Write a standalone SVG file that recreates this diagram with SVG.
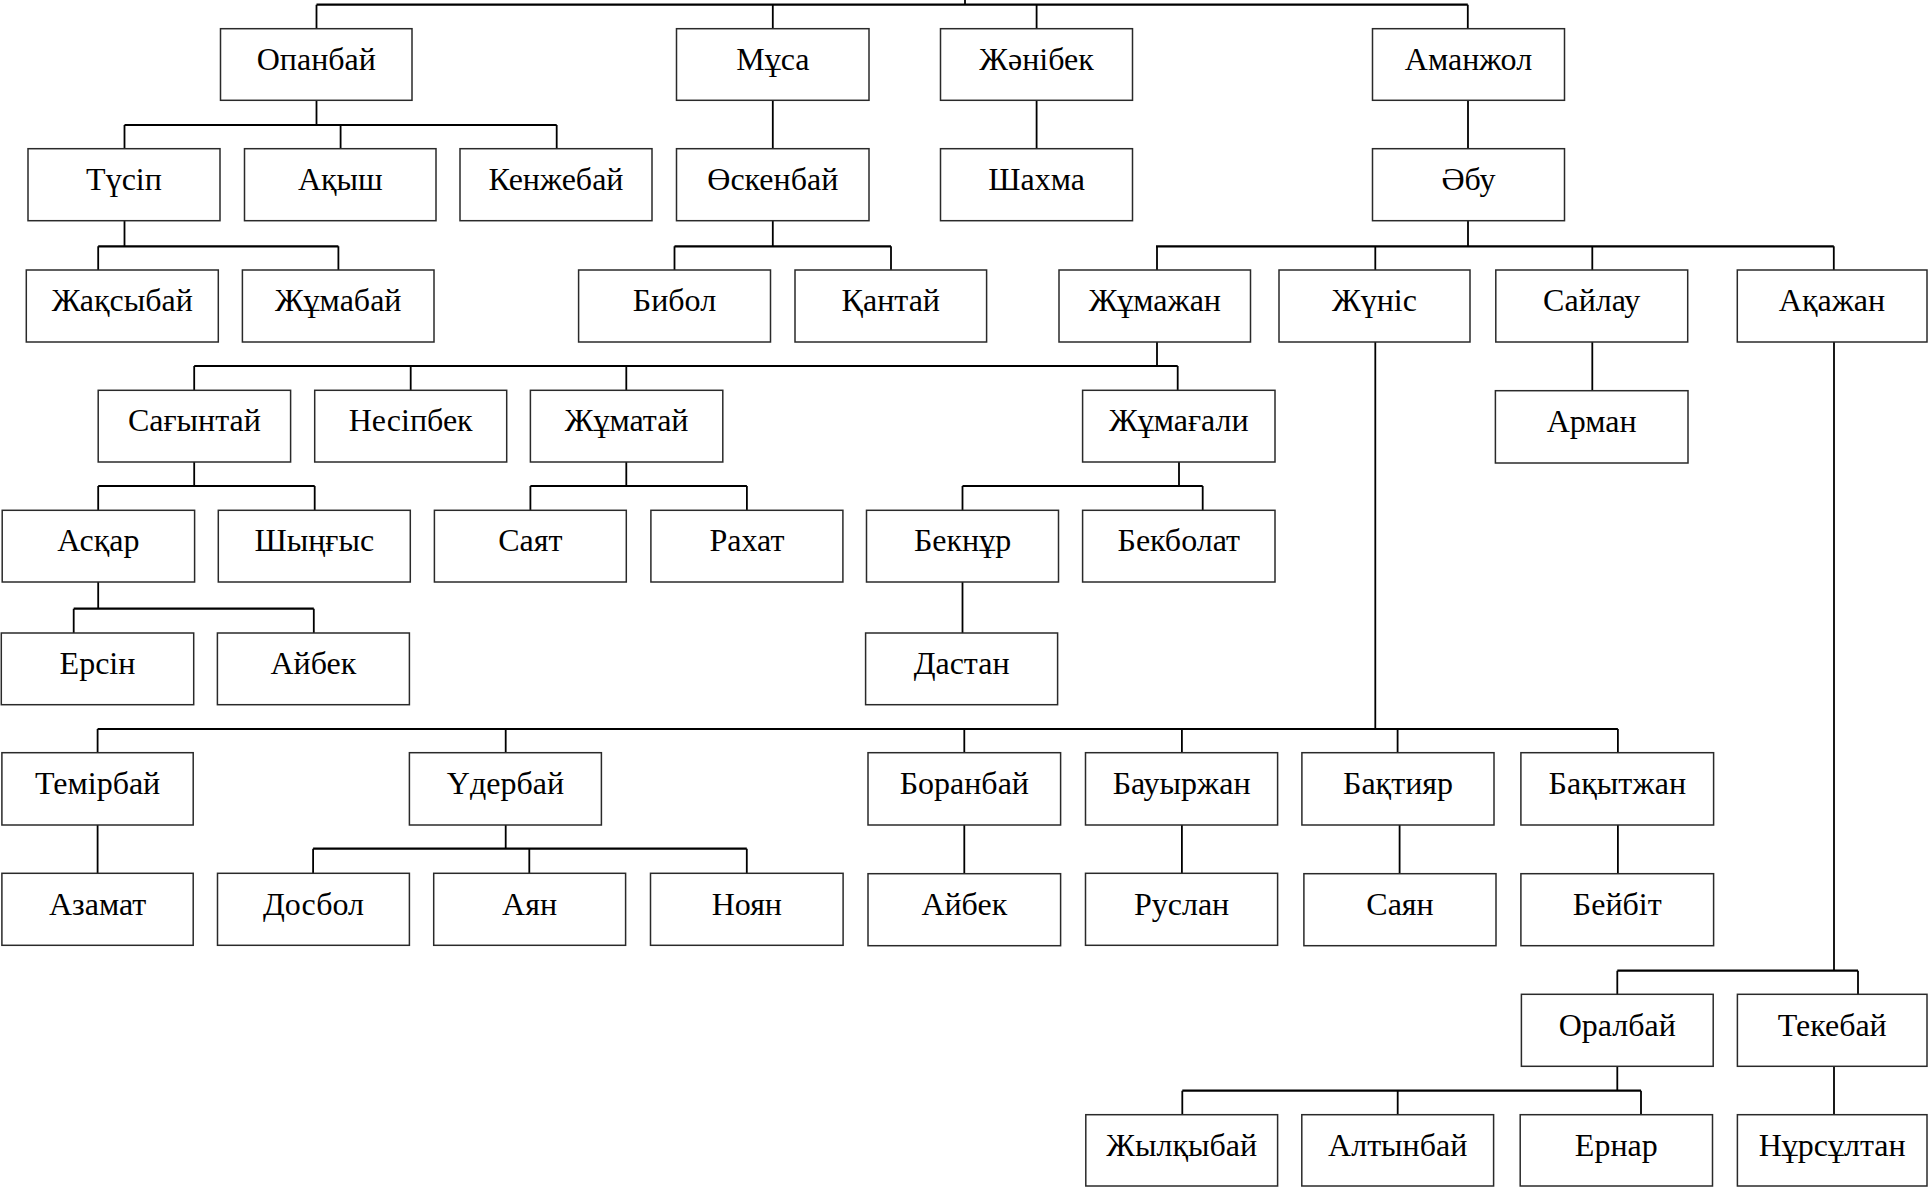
<svg xmlns="http://www.w3.org/2000/svg" width="1928" height="1187" viewBox="0 0 1928 1187">
<style>
  .n rect { fill: #ffffff; stroke: #2a2a2a; stroke-width: 1.5; }
  .n text { font-family: "Liberation Serif", "Times New Roman", serif; font-size: 32px; fill: #000; text-anchor: middle; }
  #connectors path { fill: none; stroke: #000; stroke-width: 1.8; }
  #connectors path.h { stroke-width: 2.2; }
</style>
<rect x="0" y="0" width="1928" height="1187" fill="#ffffff"/>
<g id="connectors">
  <!-- top level -->
  <path class="h" d="M316.5 4.7 H1467.8"/>
  <path d="M965 0 V4.7 M316.5 4.7 V28.7 M772.8 4.7 V28.7 M1036.6 4.7 V28.7 M1467.8 4.7 V28.7"/>
  <!-- Опанбай -->
  <path d="M316.5 100.3 V125 M124.5 125 V148.7 M340.6 125 V148.7 M556.7 125 V148.7"/>
  <path class="h" d="M124.5 125 H556.7"/>
  <!-- single links row1->row2 -->
  <path d="M772.8 100.3 V148.7 M1036.6 100.3 V148.7 M1468 100.3 V148.7"/>
  <!-- Түсіп -->
  <path d="M124.5 220.7 V246.3 M98.2 246.3 V270 M338.4 246.3 V270"/>
  <path class="h" d="M98.2 246.3 H338.4"/>
  <!-- Өскенбай -->
  <path d="M772.8 220.7 V246.3 M674.5 246.3 V270 M891 246.3 V270"/>
  <path class="h" d="M674.5 246.3 H891"/>
  <!-- Әбу -->
  <path d="M1468 220.7 V246.3 M1157 246.3 V270 M1375.3 246.3 V270 M1592.3 246.3 V270 M1833.8 246.3 V270"/>
  <path class="h" d="M1156 246.3 H1833.8"/>
  <!-- Жұмажан -->
  <path d="M1157 342 V366 M194.2 366 V390.3 M410.7 366 V390.3 M626.3 366 V390.3 M1177.7 366 V390.3"/>
  <path class="h" d="M194.2 366 H1177.7"/>
  <!-- Сайлау -> Арман -->
  <path d="M1592.3 342 V390.7"/>
  <!-- Жүніс long line -->
  <path d="M1375.3 342 V729"/>
  <!-- Ақажан long line -->
  <path d="M1834 342 V970.7"/>
  <!-- Сағынтай -->
  <path d="M194.2 462 V486 M98.2 486 V510.3 M314.7 486 V510.3"/>
  <path class="h" d="M98.2 486 H314.7"/>
  <!-- Жұматай -->
  <path d="M626.3 462 V486 M530.4 486 V510.3 M746.9 486 V510.3"/>
  <path class="h" d="M530.4 486 H746.9"/>
  <!-- Жұмағали -->
  <path d="M1179 462 V486 M962.5 486 V510.3 M1202.7 486 V510.3"/>
  <path class="h" d="M962.5 486 H1202.7"/>
  <!-- Асқар -->
  <path d="M98.2 582 V608.7 M73.7 608.7 V633 M313.8 608.7 V633"/>
  <path class="h" d="M73.7 608.7 H313.8"/>
  <!-- Бекнұр -> Дастан -->
  <path d="M962.5 582 V633"/>
  <!-- Жүніс children -->
  <path class="h" d="M97.6 729 H1617.9"/>
  <path d="M97.6 729 V752.7 M505.7 729 V752.7 M964.3 729 V752.7 M1181.9 729 V752.7 M1397.6 729 V752.7 M1617.9 729 V752.7"/>
  <!-- Темірбай -> Азамат -->
  <path d="M97.6 825 V873.3"/>
  <!-- Үдербай -->
  <path d="M505.7 825 V848.7 M313.1 848.7 V873.3 M529.3 848.7 V873.3 M746.8 848.7 V873.3"/>
  <path class="h" d="M313.1 848.7 H746.8"/>
  <!-- single links row7->row8 -->
  <path d="M964.3 825 V873.3 M1181.9 825 V873.3 M1399.6 825 V873.3 M1617.9 825 V873.3"/>
  <!-- Ақажан children -->
  <path class="h" d="M1617.3 970.7 H1858"/>
  <path d="M1617.3 970.7 V994.3 M1858 970.7 V994.3"/>
  <!-- Оралбай -->
  <path d="M1617.3 1066.3 V1090.7 M1182.3 1090.7 V1114.7 M1397.7 1090.7 V1114.7 M1641 1090.7 V1114.7"/>
  <path class="h" d="M1182.3 1090.7 H1641"/>
  <!-- Текебай -> Нұрсұлтан -->
  <path d="M1834 1066.3 V1114.7"/>
</g>

<!-- Row 1 -->
<g id="opanbai" class="n"><rect x="220.5" y="28.7" width="191.5" height="71.6"/><text x="316.3" y="70">Опанбай</text></g>
<g id="musa" class="n"><rect x="676.5" y="28.7" width="192.5" height="71.6"/><text x="772.8" y="70">Мұса</text></g>
<g id="zhanibek" class="n"><rect x="940.5" y="28.7" width="192" height="71.6"/><text x="1036.5" y="70">Жәнібек</text></g>
<g id="amanzhol" class="n"><rect x="1372.5" y="28.7" width="192" height="71.6"/><text x="1468.5" y="70">Аманжол</text></g>

<!-- Row 2 -->
<g id="tusip" class="n"><rect x="28" y="148.7" width="192" height="72"/><text x="124" y="190">Түсіп</text></g>
<g id="akysh" class="n"><rect x="244.5" y="148.7" width="191.5" height="72"/><text x="340.3" y="190">Ақыш</text></g>
<g id="kenzhebai" class="n"><rect x="460" y="148.7" width="192" height="72"/><text x="556" y="190">Кенжебай</text></g>
<g id="oskenbai" class="n"><rect x="676.5" y="148.7" width="192.5" height="72"/><text x="772.8" y="190">Өскенбай</text></g>
<g id="shakhma" class="n"><rect x="940.5" y="148.7" width="192" height="72"/><text x="1036.5" y="190">Шахма</text></g>
<g id="abu" class="n"><rect x="1372.5" y="148.7" width="192" height="72"/><text x="1468.5" y="190">Әбу</text></g>

<!-- Row 3 -->
<g id="zhaksybai" class="n"><rect x="26.3" y="270" width="192" height="72"/><text x="122.3" y="311">Жақсыбай</text></g>
<g id="zhumabai" class="n"><rect x="242.4" y="270" width="191.6" height="72"/><text x="338.2" y="311">Жұмабай</text></g>
<g id="bibol" class="n"><rect x="578.6" y="270" width="191.9" height="72"/><text x="674.5" y="311">Бибол</text></g>
<g id="kantai" class="n"><rect x="795" y="270" width="191.6" height="72"/><text x="890.8" y="311">Қантай</text></g>
<g id="zhumazhan" class="n"><rect x="1059" y="270" width="191.5" height="72"/><text x="1154.8" y="311">Жұмажан</text></g>
<g id="zhunis" class="n"><rect x="1279" y="270" width="191" height="72"/><text x="1374.5" y="311">Жүніс</text></g>
<g id="sailau" class="n"><rect x="1495.8" y="270" width="191.9" height="72"/><text x="1591.7" y="311">Сайлау</text></g>
<g id="akazhan" class="n"><rect x="1737.3" y="270" width="189.7" height="72"/><text x="1832" y="311">Ақажан</text></g>

<!-- Row 4 -->
<g id="sagyntai" class="n"><rect x="98.2" y="390.3" width="192.4" height="71.7"/><text x="194.4" y="431">Сағынтай</text></g>
<g id="nesipbek" class="n"><rect x="314.7" y="390.3" width="192" height="71.7"/><text x="410.7" y="431">Несіпбек</text></g>
<g id="zhumatai" class="n"><rect x="530.4" y="390.3" width="192.4" height="71.7"/><text x="626.6" y="431">Жұматай</text></g>
<g id="zhumagali" class="n"><rect x="1082.6" y="390.3" width="192.4" height="71.7"/><text x="1178.8" y="431">Жұмағали</text></g>
<g id="arman" class="n"><rect x="1495.4" y="390.7" width="192.6" height="72.3"/><text x="1591.7" y="431.5">Арман</text></g>

<!-- Row 5 -->
<g id="askar" class="n"><rect x="2.2" y="510.3" width="192.4" height="71.7"/><text x="98.4" y="551">Асқар</text></g>
<g id="shyngys" class="n"><rect x="218.3" y="510.3" width="192" height="71.7"/><text x="314.3" y="551">Шыңғыс</text></g>
<g id="saiat" class="n"><rect x="434.4" y="510.3" width="191.9" height="71.7"/><text x="530.3" y="551">Саят</text></g>
<g id="rakhat" class="n"><rect x="650.9" y="510.3" width="192" height="71.7"/><text x="746.9" y="551">Рахат</text></g>
<g id="beknur" class="n"><rect x="866.5" y="510.3" width="192" height="71.7"/><text x="962.5" y="551">Бекнұр</text></g>
<g id="bekbolat" class="n"><rect x="1082.6" y="510.3" width="192.4" height="71.7"/><text x="1178.8" y="551">Бекболат</text></g>

<!-- Row 6 -->
<g id="ersin" class="n"><rect x="1.3" y="633" width="192.4" height="71.7"/><text x="97.5" y="674">Ерсін</text></g>
<g id="aibek1" class="n"><rect x="217.4" y="633" width="192" height="71.7"/><text x="313.4" y="674">Айбек</text></g>
<g id="dastan" class="n"><rect x="865.6" y="633" width="192" height="71.7"/><text x="961.6" y="674">Дастан</text></g>

<!-- Row 7 -->
<g id="temirbai" class="n"><rect x="1.9" y="752.7" width="191.3" height="72.3"/><text x="97.6" y="794">Темірбай</text></g>
<g id="uderbai" class="n"><rect x="409.4" y="752.7" width="192" height="72.3"/><text x="505.4" y="794">Үдербай</text></g>
<g id="boranbai" class="n"><rect x="868" y="752.7" width="192.6" height="72.3"/><text x="964.3" y="794">Боранбай</text></g>
<g id="bauyrzhan" class="n"><rect x="1085.5" y="752.7" width="192.1" height="72.3"/><text x="1181.6" y="794">Бауыржан</text></g>
<g id="baktiiar" class="n"><rect x="1301.9" y="752.7" width="192.1" height="72.3"/><text x="1398" y="794">Бақтияр</text></g>
<g id="bakytzhan" class="n"><rect x="1520.9" y="752.7" width="192.7" height="72.3"/><text x="1617.3" y="794">Бақытжан</text></g>

<!-- Row 8 -->
<g id="azamat" class="n"><rect x="1.9" y="873.3" width="191.3" height="72"/><text x="97.6" y="914.5">Азамат</text></g>
<g id="dosbol" class="n"><rect x="217.5" y="873.3" width="191.9" height="72"/><text x="313.5" y="914.5">Досбол</text></g>
<g id="aian" class="n"><rect x="433.7" y="873.3" width="191.9" height="72"/><text x="529.6" y="914.5">Аян</text></g>
<g id="noian" class="n"><rect x="650.5" y="873.3" width="192.6" height="72"/><text x="746.8" y="914.5">Ноян</text></g>
<g id="aibek2" class="n"><rect x="868" y="873.7" width="192.6" height="72"/><text x="964.3" y="915">Айбек</text></g>
<g id="ruslan" class="n"><rect x="1085.5" y="873.3" width="192.1" height="72"/><text x="1181.6" y="914.5">Руслан</text></g>
<g id="saian" class="n"><rect x="1303.9" y="873.7" width="192.1" height="72"/><text x="1400" y="915">Саян</text></g>
<g id="beibit" class="n"><rect x="1520.9" y="873.7" width="192.7" height="72"/><text x="1617.3" y="915">Бейбіт</text></g>

<!-- Row 9 -->
<g id="oralbai" class="n"><rect x="1521.4" y="994.3" width="191.8" height="72"/><text x="1617.3" y="1035.5">Оралбай</text></g>
<g id="tekebai" class="n"><rect x="1737.4" y="994.3" width="189.6" height="72"/><text x="1832.2" y="1035.5">Текебай</text></g>

<!-- Row 10 -->
<g id="zhylkybai" class="n"><rect x="1085.8" y="1114.7" width="191.8" height="71.3"/><text x="1181.7" y="1156">Жылқыбай</text></g>
<g id="altynbai" class="n"><rect x="1301.8" y="1114.7" width="191.8" height="71.3"/><text x="1397.7" y="1156">Алтынбай</text></g>
<g id="ernar" class="n"><rect x="1520.2" y="1114.7" width="192.3" height="71.3"/><text x="1616.3" y="1156">Ернар</text></g>
<g id="nursultan" class="n"><rect x="1737.4" y="1114.7" width="189.6" height="71.3"/><text x="1832.2" y="1156">Нұрсұлтан</text></g>
</svg>
